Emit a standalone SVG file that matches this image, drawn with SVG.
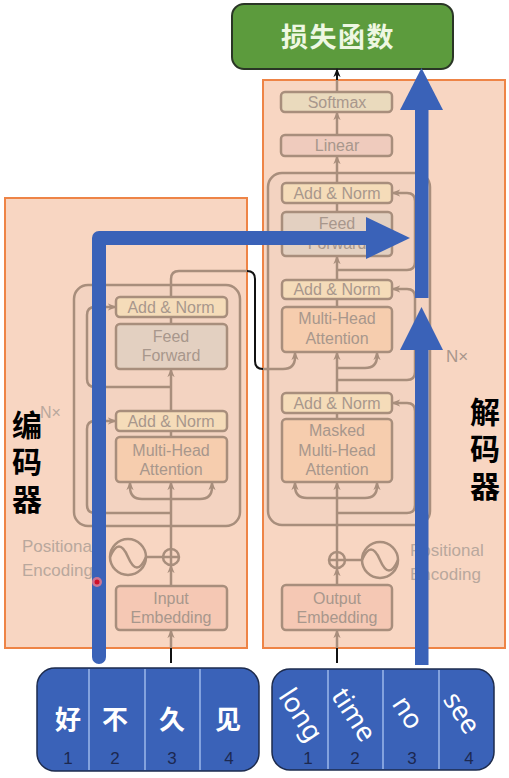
<svg xmlns="http://www.w3.org/2000/svg" width="509" height="778" viewBox="0 0 509 778">
<defs>
<marker id="ah" viewBox="0 0 10 10" refX="8" refY="5" markerWidth="9" markerHeight="9" markerUnits="userSpaceOnUse" orient="auto"><path d="M0,1 L10,5 L0,9 L3,5z" fill="#a88e7c"/></marker>
<marker id="ahk" viewBox="0 0 10 10" refX="8" refY="5" markerWidth="9" markerHeight="9" markerUnits="userSpaceOnUse" orient="auto"><path d="M0,1 L10,5 L0,9 L3,5z" fill="#111"/></marker>
<style>
.big{fill:#f8d6c2;stroke:#ee8446;stroke-width:2}
.blk{fill:#f3d3c1;stroke:#a88e7c;stroke-width:2.5}
.bx{stroke:#a88e7c;stroke-width:2.5}
.an{fill:#f5dcb9}.ff{fill:#e3d0c1}.mha{fill:#f6cdae}.emb{fill:#f5c8b4}.lin{fill:#efcbbd}.sm{fill:#eadabd}
.t{font-family:"Liberation Sans",Arial,sans-serif;font-size:16px;fill:#a8978c;text-anchor:middle}
.pe{font-family:"Liberation Sans",Arial,sans-serif;font-size:17px;fill:#b9a89d}
.ln{fill:none;stroke:#a88e7c;stroke-width:2.5}
.la{fill:none;stroke:#a88e7c;stroke-width:2.5;marker-end:url(#ah)}
.bk{fill:none;stroke:#111;stroke-width:2}
.blue{fill:#3a62b8}
.bs{fill:none;stroke:#3a62b8;stroke-width:14}
.cjk{font-family:"Noto Sans CJK SC",sans-serif;font-weight:bold;font-size:30px;fill:#000;writing-mode:vertical-rl;letter-spacing:7px}
.tok{fill:#3a62b8;stroke:#1d2b4d;stroke-width:1.5}
.dv{stroke:#9cb8ea;stroke-width:1.5}
.zh{font-family:"Noto Sans CJK SC",sans-serif;font-weight:bold;font-size:26px;fill:#fff;text-anchor:middle}
.en{font-family:"Noto Sans",sans-serif;font-size:27px;fill:#fff;text-anchor:middle;dominant-baseline:central}
.num{font-family:"Liberation Sans",Arial,sans-serif;font-size:17px;fill:#1c2850;text-anchor:middle}
</style>
</defs>

<g id="loss">
<rect x="232" y="4" width="221" height="65" rx="12" fill="#5c9b3d" stroke="#2a3626" stroke-width="2"/>
<text x="338" y="47" font-family="Noto Sans CJK SC,sans-serif" font-weight="bold" font-size="27" fill="#eef7e2" text-anchor="middle" letter-spacing="1.5">损失函数</text>
</g>

<g id="encoder">
<rect class="big" x="5" y="198" width="242" height="450"/>
<rect class="blk" x="74" y="285" width="166" height="241" rx="14"/>
<text class="pe" x="22" y="552">Positional</text>
<text class="pe" x="22" y="576">Encoding</text>
<text x="40" y="418" font-family="Liberation Sans,Arial,sans-serif" font-size="16" fill="#b9a89d">N×</text>
</g>

<g id="decoder">
<rect class="big" x="263" y="80" width="242" height="568"/>
<rect class="blk" x="268" y="173" width="162" height="352" rx="14"/>
<text class="pe" x="410" y="556">Positional</text>
<text class="pe" x="410" y="580">Encoding</text>
<text x="446" y="362" font-family="Liberation Sans,Arial,sans-serif" font-size="17" fill="#a8978c">N×</text>
</g>

<g id="connectors">
<path class="ln" d="M171,297 V279 Q171,271 179,271 H247"/>
<path class="ln" d="M171,324 V317"/>
<path class="la" d="M171,411 V370"/>
<path class="la" d="M171,387 H95 Q87,387 87,379 V315 Q87,307 95,307 H115"/>
<path class="ln" d="M171,437 V431"/>
<path class="la" d="M171,549 V483"/>
<path class="la" d="M171,499 H142 Q130,499 130,487 V483"/>
<path class="la" d="M171,499 H200 Q212,499 212,487 V483"/>
<path class="la" d="M171,513 H95 Q87,513 87,505 V429 Q87,421 95,421 H115"/>
<path class="la" d="M171,586 V566"/>
<path class="la" d="M171,648 V631"/>
<path class="bk" d="M171,648 V663"/>
<path class="ln" d="M146,557 H163"/>
<path class="bk" d="M247,271 Q255,271 255,279 V361 Q255,369 263,369"/>
<path class="la" d="M263,369 H283 Q295,369 295,357 V353"/>
<path class="la" d="M337,135 V113"/>
<path class="ln" d="M337,92 V80"/>
<path class="bk" d="M337,80 V70" marker-end="url(#ahk)"/>
<path class="la" d="M337,183 V157"/>
<path class="ln" d="M337,212 V203"/>
<path class="la" d="M337,280 V257"/>
<path class="la" d="M337,270 H407 Q415,270 415,262 V201 Q415,193 407,193 H393"/>
<path class="ln" d="M337,307 V299"/>
<path class="la" d="M337,393 V353"/>
<path class="la" d="M337,368 H365 Q377,368 377,356 V353"/>
<path class="la" d="M337,380 H407 Q415,380 415,372 V297 Q415,289 407,289 H393"/>
<path class="ln" d="M337,419 V413"/>
<path class="la" d="M337,552 V483"/>
<path class="la" d="M337,498 H307 Q295,498 295,486 V483"/>
<path class="la" d="M337,498 H365 Q377,498 377,486 V483"/>
<path class="la" d="M337,513 H407 Q415,513 415,505 V411 Q415,403 407,403 H393"/>
<path class="la" d="M337,585 V569"/>
<path class="la" d="M337,648 V631"/>
<path class="bk" d="M337,648 V663"/>
<path class="ln" d="M345,560 H362"/>
</g>

<g id="enc-addnorm1"><rect class="bx an" x="116" y="297" width="111" height="20" rx="4"/><text class="t" x="171" y="313">Add &amp; Norm</text></g>
<g id="enc-ff"><rect class="bx ff" x="116" y="324" width="111" height="45" rx="4"/><text class="t" x="171" y="342">Feed</text><text class="t" x="171" y="361">Forward</text></g>
<g id="enc-addnorm2"><rect class="bx an" x="116" y="411" width="111" height="20" rx="4"/><text class="t" x="171" y="427">Add &amp; Norm</text></g>
<g id="enc-mha"><rect class="bx mha" x="116" y="437" width="111" height="45" rx="4"/><text class="t" x="171" y="456">Multi-Head</text><text class="t" x="171" y="475">Attention</text></g>
<g id="enc-plus"><circle cx="171" cy="557" r="8" fill="none" class="bx"/><path class="ln" d="M163,557 H179 M171,549 V565"/></g>
<g id="enc-sine"><circle cx="128" cy="557" r="18" fill="none" class="bx"/><path class="ln" d="M110,557 C116,543 122,543 128,557 S140,571 146,557"/></g>
<g id="enc-embed"><rect class="bx emb" x="116" y="586" width="111" height="44" rx="4"/><text class="t" x="171" y="604">Input</text><text class="t" x="171" y="623">Embedding</text></g>

<g id="dec-softmax"><rect class="bx sm" x="281" y="92" width="111" height="20" rx="4"/><text class="t" x="337" y="108">Softmax</text></g>
<g id="dec-linear"><rect class="bx lin" x="281" y="135" width="111" height="21" rx="4"/><text class="t" x="337" y="151">Linear</text></g>
<g id="dec-addnorm1"><rect class="bx an" x="282" y="183" width="110" height="20" rx="4"/><text class="t" x="337" y="199">Add &amp; Norm</text></g>
<g id="dec-ff"><rect class="bx ff" x="282" y="212" width="110" height="44" rx="4"/><text class="t" x="337" y="229">Feed</text><text class="t" x="337" y="249">Forward</text></g>
<g id="dec-addnorm2"><rect class="bx an" x="282" y="280" width="110" height="19" rx="4"/><text class="t" x="337" y="295">Add &amp; Norm</text></g>
<g id="dec-mha"><rect class="bx mha" x="282" y="307" width="110" height="45" rx="4"/><text class="t" x="337" y="324">Multi-Head</text><text class="t" x="337" y="344">Attention</text></g>
<g id="dec-addnorm3"><rect class="bx an" x="282" y="393" width="110" height="20" rx="4"/><text class="t" x="337" y="409">Add &amp; Norm</text></g>
<g id="dec-masked"><rect class="bx mha" x="282" y="419" width="110" height="63" rx="4"/><text class="t" x="337" y="436">Masked</text><text class="t" x="337" y="456">Multi-Head</text><text class="t" x="337" y="475">Attention</text></g>
<g id="dec-plus"><circle cx="337" cy="560" r="8" fill="none" class="bx"/><path class="ln" d="M329,560 H345 M337,552 V568"/></g>
<g id="dec-sine"><circle cx="380" cy="560" r="18" fill="none" class="bx"/><path class="ln" d="M362,560 C368,546 374,546 380,560 S392,574 398,560"/></g>
<g id="dec-embed"><rect class="bx emb" x="282" y="585" width="110" height="45" rx="4"/><text class="t" x="337" y="604">Output</text><text class="t" x="337" y="623">Embedding</text></g>

<g id="blue-arrows">
<path class="bs" d="M99,657 V238 H370" stroke-linejoin="round" stroke-linecap="round"/>
<polygon class="blue" points="366,217 410,238 366,259"/>
<rect class="blue" x="415" y="108" width="13.5" height="190"/>
<polygon class="blue" points="400,110 421.5,68 443,110"/>
<rect class="blue" x="415" y="348" width="13.5" height="317"/>
<polygon class="blue" points="400,350 421.5,307 443,350"/>
</g>

<g id="labels">
<text class="cjk" x="27" y="410">编码器</text>
<text class="cjk" x="485" y="397">解码器</text>
</g>

<g id="src-tokens">
<rect class="tok" x="37" y="668" width="222" height="103" rx="18"/>
<path class="dv" d="M89,669 V770 M145,669 V770 M200,669 V770"/>
<text class="zh" x="68" y="729">好</text>
<text class="zh" x="115" y="729">不</text>
<text class="zh" x="172" y="729">久</text>
<text class="zh" x="228" y="729">见</text>
<text class="num" x="68" y="764">1</text>
<text class="num" x="115" y="764">2</text>
<text class="num" x="172" y="764">3</text>
<text class="num" x="229" y="764">4</text>
</g>

<g id="tgt-tokens">
<rect class="tok" x="272" y="669" width="222" height="101" rx="18"/>
<path class="dv" d="M328,670 V769 M383,670 V769 M439,670 V769"/>
<text class="en" x="302" y="714" transform="rotate(57 302 714)">long</text>
<text class="en" x="355" y="714" transform="rotate(57 355 714)">time</text>
<text class="en" x="409" y="712" transform="rotate(57 409 712)">no</text>
<text class="en" x="463" y="712" transform="rotate(57 463 712)">see</text>
<text class="num" x="308" y="764">1</text>
<text class="num" x="355" y="764">2</text>
<text class="num" x="412" y="764">3</text>
<text class="num" x="469" y="764">4</text>
</g>

<g id="cursor">
<circle cx="97" cy="582" r="5" fill="#f07a8a" opacity="0.8"/>
<circle cx="97" cy="582" r="2.5" fill="#d0102a"/>
</g>
</svg>
